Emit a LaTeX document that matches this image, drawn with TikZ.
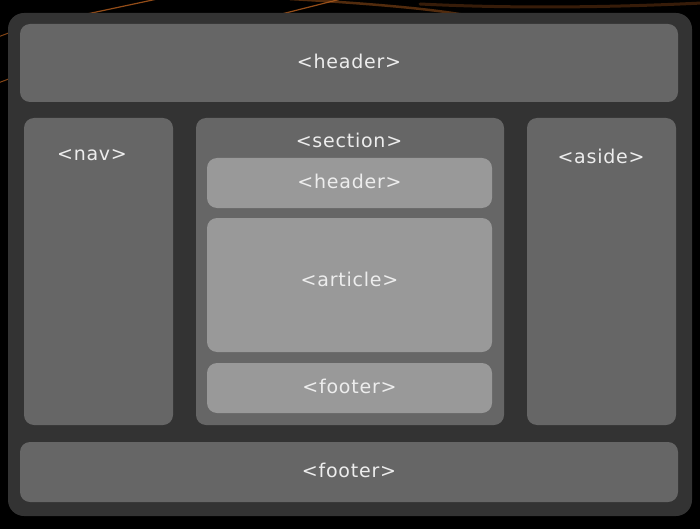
\documentclass[tikz,border=0pt]{standalone}
\usepackage{fontspec}
\usepackage{tikz}
\newfontfamily\boxfont[LetterSpace=4]{DejaVu Sans}
\definecolor{frame}{HTML}{333333}
\definecolor{outerbox}{HTML}{666666}
\definecolor{innerbox}{HTML}{999999}
\definecolor{streak}{HTML}{B8601E}
\tikzstyle{block} = [draw=none,fill=outerbox,rounded corners=10pt,inner sep=0pt]
\tikzstyle{inblock} = [block,fill=innerbox]
\tikzstyle{tag} = [font=\boxfont\fontsize{19}{22}\selectfont,text=white!93!black,inner sep=0pt]
\tikzstyle{glow} = [streak,line cap=round]

\begin{document}
\begin{tikzpicture}[x=1pt,y=-1pt]
          \useasboundingbox (0,0) rectangle (700,529);
          \clip (0,0) rectangle (700,529);
          \fill[black] (0,0) rectangle (700,529);
          % orange streaks behind the frame
          \draw[glow,line width=1.2pt,opacity=0.8] (40,24) -- (162,-2);
          \draw[glow,line width=1.2pt,opacity=0.8] (250,22) -- (345,-2);
          \draw[glow,line width=2.5pt,opacity=0.45] (290,-1) .. controls (380,4) and (440,10) .. (470,16);
          \draw[glow,line width=3pt,opacity=0.3] (420,4) .. controls (520,9) and (620,7) .. (702,3);
          \draw[glow,line width=1pt,opacity=0.7] (-2,37) -- (14,31);
          \draw[glow,line width=1pt,opacity=0.7] (-2,83) -- (14,77);
          \fill[frame,rounded corners=16pt] (8,13) rectangle (692,516);

          \node[block,minimum width=658pt,minimum height=78pt] at (349,63) (header) {};
          \node[block,minimum width=149pt,minimum height=307pt] at (98.5,271.5) (nav) {};
          \node[block,minimum width=308pt,minimum height=307pt] at (350,271.5) (section) {};
          \node[block,minimum width=149pt,minimum height=307pt] at (601.5,271.5) (aside) {};
          \node[block,minimum width=658pt,minimum height=60pt] at (349,472) (footer) {};
          \node[inblock,minimum width=285pt,minimum height=50pt] at (349.5,183) (secheader) {};
          \node[inblock,minimum width=285pt,minimum height=134pt] at (349.5,285) (article) {};
          \node[inblock,minimum width=285pt,minimum height=50pt] at (349.5,388) (secfooter) {};

          \node[tag] at (349,61) (headertag) {<header>};
          \node[tag] at (92,155) (navtag) {<nav>};
          \node[tag] at (349,140) (sectiontag) {<section>};
          \node[tag] at (601,156) (asidetag) {<aside>};
          \node[tag] at (349.5,181) (secheadertag) {<header>};
          \node[tag] at (349.5,279) (articletag) {<article>};
          \node[tag] at (349.5,386) (secfootertag) {<footer>};
          \node[tag] at (349,470) (footertag) {<footer>};
        \end{tikzpicture}
\end{document}
